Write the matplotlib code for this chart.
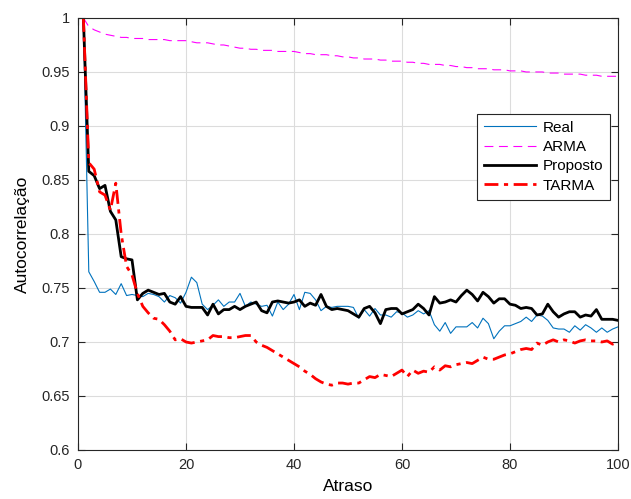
import numpy as np
import matplotlib.pyplot as plt

plt.rc("font", family="Liberation Sans", size=10)

lags = np.arange(1, 101)

real = [
    1.000, 0.765, 0.756, 0.746, 0.746, 0.749, 0.744, 0.754, 0.743, 0.744,
    0.743, 0.742, 0.745, 0.744, 0.742, 0.737, 0.743, 0.741, 0.736, 0.746,
    0.760, 0.755, 0.735, 0.730, 0.734, 0.739, 0.733, 0.737, 0.737, 0.745,
    0.733, 0.737, 0.735, 0.733, 0.734, 0.724, 0.737, 0.730, 0.735, 0.744,
    0.730, 0.746, 0.745, 0.739, 0.729, 0.733, 0.732, 0.733, 0.733, 0.733,
    0.732, 0.722, 0.730, 0.724, 0.731, 0.725, 0.725, 0.723, 0.728, 0.727,
    0.723, 0.725, 0.729, 0.726, 0.729, 0.716, 0.710, 0.718, 0.708, 0.714,
    0.714, 0.714, 0.718, 0.713, 0.722, 0.717, 0.703, 0.710, 0.715, 0.715,
    0.717, 0.719, 0.723, 0.719, 0.725, 0.724, 0.720, 0.713, 0.712, 0.712,
    0.709, 0.715, 0.711, 0.716, 0.713, 0.709, 0.713, 0.709, 0.712, 0.714,
]

arma = [
    1.000, 0.992, 0.989, 0.987, 0.985, 0.984, 0.983, 0.982, 0.982, 0.981,
    0.981, 0.981, 0.980, 0.980, 0.980, 0.980, 0.979, 0.979, 0.979, 0.979,
    0.978, 0.977, 0.977, 0.977, 0.976, 0.975, 0.975, 0.974, 0.973, 0.972,
    0.972, 0.971, 0.971, 0.970, 0.970, 0.970, 0.969, 0.969, 0.969, 0.969,
    0.968, 0.967, 0.967, 0.966, 0.966, 0.966, 0.965, 0.965, 0.964, 0.964,
    0.963, 0.963, 0.962, 0.962, 0.962, 0.961, 0.961, 0.960, 0.960, 0.960,
    0.959, 0.959, 0.958, 0.958, 0.957, 0.957, 0.957, 0.956, 0.956, 0.955,
    0.955, 0.954, 0.954, 0.953, 0.953, 0.953, 0.952, 0.952, 0.952, 0.951,
    0.951, 0.951, 0.950, 0.950, 0.950, 0.950, 0.949, 0.949, 0.949, 0.948,
    0.948, 0.948, 0.948, 0.947, 0.947, 0.947, 0.946, 0.946, 0.946, 0.946,
]

proposto = [
    1.000, 0.858, 0.854, 0.842, 0.845, 0.821, 0.813, 0.779, 0.777, 0.776,
    0.739, 0.745, 0.748, 0.746, 0.744, 0.745, 0.737, 0.735, 0.742, 0.733,
    0.732, 0.732, 0.732, 0.725, 0.735, 0.726, 0.730, 0.730, 0.733, 0.730,
    0.733, 0.735, 0.737, 0.729, 0.727, 0.737, 0.738, 0.737, 0.736, 0.737,
    0.739, 0.733, 0.736, 0.734, 0.744, 0.733, 0.730, 0.731, 0.730, 0.729,
    0.726, 0.723, 0.731, 0.733, 0.727, 0.717, 0.730, 0.731, 0.731, 0.726,
    0.728, 0.730, 0.735, 0.731, 0.725, 0.742, 0.736, 0.737, 0.739, 0.737,
    0.743, 0.748, 0.744, 0.738, 0.746, 0.742, 0.736, 0.740, 0.740, 0.735,
    0.734, 0.731, 0.732, 0.731, 0.725, 0.726, 0.735, 0.728, 0.723, 0.726,
    0.728, 0.728, 0.723, 0.725, 0.724, 0.730, 0.721, 0.721, 0.721, 0.720,
]

tarma = [
    1.000, 0.866, 0.860, 0.839, 0.836, 0.822, 0.847, 0.800, 0.770, 0.762,
    0.745, 0.733, 0.727, 0.722, 0.721, 0.716, 0.710, 0.702, 0.703, 0.700,
    0.699, 0.700, 0.701, 0.702, 0.706, 0.705, 0.705, 0.704, 0.704, 0.705,
    0.706, 0.706, 0.700, 0.697, 0.695, 0.692, 0.689, 0.686, 0.683, 0.680,
    0.677, 0.673, 0.670, 0.666, 0.663, 0.661, 0.660, 0.662, 0.662, 0.661,
    0.662, 0.662, 0.665, 0.668, 0.667, 0.670, 0.669, 0.668, 0.671, 0.674,
    0.668, 0.674, 0.671, 0.673, 0.672, 0.677, 0.674, 0.678, 0.677, 0.679,
    0.680, 0.681, 0.680, 0.683, 0.686, 0.684, 0.684, 0.686, 0.688, 0.689,
    0.691, 0.693, 0.694, 0.693, 0.699, 0.697, 0.700, 0.702, 0.700, 0.702,
    0.701, 0.699, 0.701, 0.702, 0.701, 0.701, 0.700, 0.701, 0.698, 0.700,
]

fig = plt.figure(figsize=(6.31, 4.99), dpi=100)
ax = fig.add_axes([0.1236, 0.0982, 0.8558, 0.8658])

ax.plot(lags, real, color="#0072BD", lw=0.8, label="Real")
ax.plot(lags, arma, color="#FF00FF", lw=0.8, ls=(0, (8, 5)), label="ARMA")
ax.plot(lags, proposto, color="black", lw=2.0, label="Proposto")
ax.plot(lags, tarma, color="red", lw=2.0, ls=(0, (5, 2, 1.5, 2)), label="TARMA")

ax.set_xlim(0, 100)
ax.set_ylim(0.6, 1.0)
ax.set_xticks(np.arange(0, 101, 20))
yt = np.arange(0.6, 1.0001, 0.05)
ax.set_yticks(yt)
ax.set_yticklabels([f"{v:g}" for v in np.round(yt, 2)])

ax.set_xlabel("Atraso", fontsize=12.5, labelpad=5)
ax.set_ylabel("Autocorrelação", fontsize=12.5, labelpad=8)

axis_col = "#262626"
for s in ax.spines.values():
    s.set_color(axis_col)
    s.set_linewidth(0.8)
ax.tick_params(direction="in", top=True, right=True, length=5, width=0.8,
               colors=axis_col, labelsize=10.5, labelcolor=axis_col, pad=6)
ax.grid(True, color="#dcdcdc", linewidth=0.8)
ax.set_axisbelow(True)

leg = ax.legend(loc="upper left", bbox_to_anchor=(0.739, 0.778), fancybox=False,
                edgecolor=axis_col, framealpha=1, fontsize=11, handlelength=3.4,
                borderpad=0.45, labelspacing=0.35, handletextpad=0.45,
                borderaxespad=0)
leg.get_frame().set_linewidth(0.8)

fig.savefig("out.png", dpi=100)
